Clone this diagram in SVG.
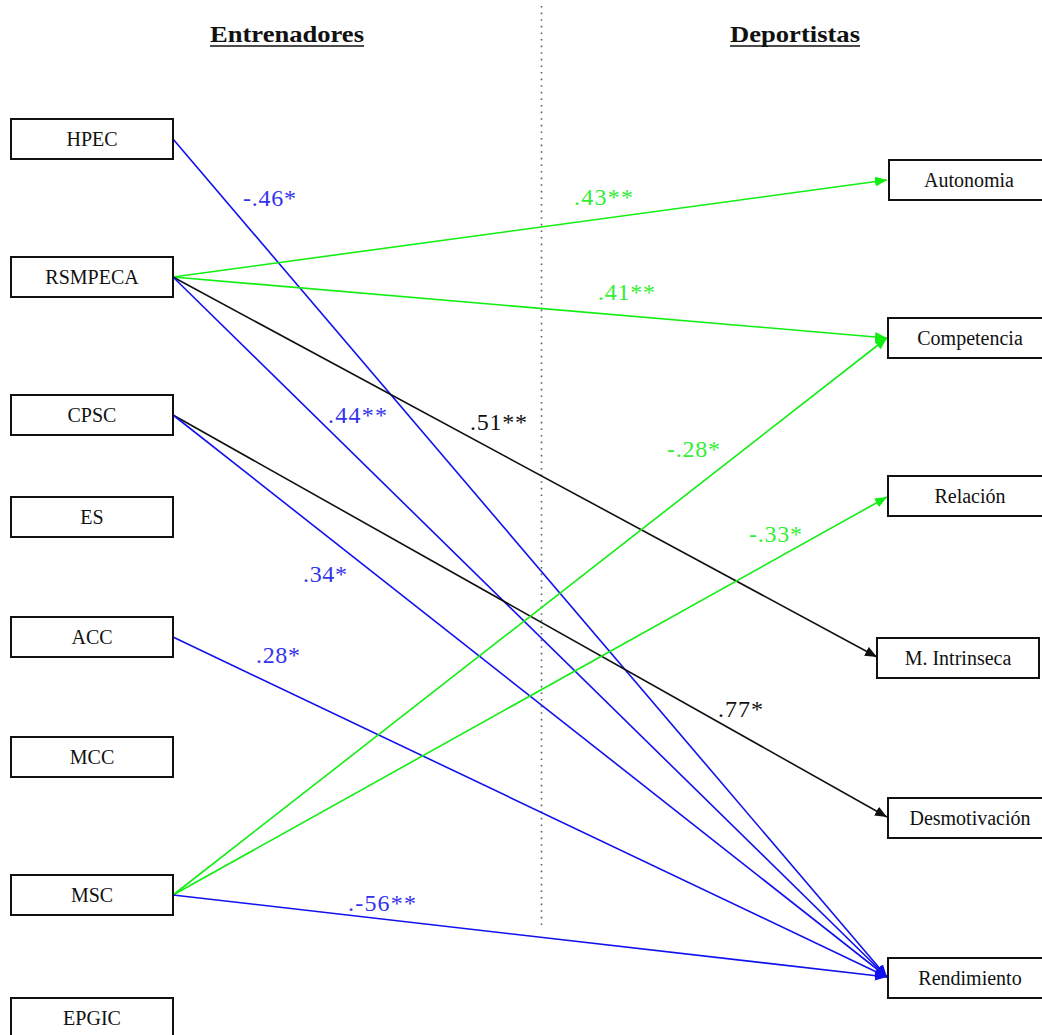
<svg xmlns="http://www.w3.org/2000/svg" width="1042" height="1035" viewBox="0 0 1042 1035">
<style>
.box{fill:#fff;stroke:#111;stroke-width:2}
.nt{font-family:"Liberation Serif","Times New Roman",serif;font-size:20px;fill:#111;text-anchor:middle}
.title{font-family:"Liberation Serif","Times New Roman",serif;font-size:23px;font-weight:bold;fill:#111}
.lbl{font-family:"Liberation Serif","Times New Roman",serif;font-size:24px}
.b{stroke:#1111ee;stroke-width:1.6;fill:none}
.g{stroke:#11ee11;stroke-width:1.6;fill:none}
.k{stroke:#111;stroke-width:1.6;fill:none}
</style>
<defs>
<marker id="ab" viewBox="0 0 12 10" refX="12" refY="5" markerWidth="12" markerHeight="10" markerUnits="userSpaceOnUse" orient="auto"><path d="M0,0L12,5L0,10z" fill="#1111ee"/></marker>
<marker id="ag" viewBox="0 0 12 10" refX="12" refY="5" markerWidth="12" markerHeight="10" markerUnits="userSpaceOnUse" orient="auto"><path d="M0,0L12,5L0,10z" fill="#11ee11"/></marker>
<marker id="ak" viewBox="0 0 12 10" refX="12" refY="5" markerWidth="12" markerHeight="10" markerUnits="userSpaceOnUse" orient="auto"><path d="M0,0L12,5L0,10z" fill="#111"/></marker>
</defs>
<rect width="1042" height="1035" fill="#fff"/>
<g id="titles">
<text class="title" x="210" y="42" textLength="154" lengthAdjust="spacingAndGlyphs">Entrenadores</text>
<line x1="210" y1="46" x2="364" y2="46" stroke="#111" stroke-width="1.6"/>
<text class="title" x="730" y="42" textLength="130" lengthAdjust="spacingAndGlyphs">Deportistas</text>
<line x1="730" y1="46" x2="860" y2="46" stroke="#111" stroke-width="1.6"/>
</g>
<line id="divider" x1="541.5" y1="6" x2="541.5" y2="926" stroke="#556070" stroke-width="1.6" stroke-dasharray="1.6,5"/>
<g id="connectors">
<line class="b" x1="173" y1="139" x2="887" y2="977" marker-end="url(#ab)"/>
<line class="g" x1="173" y1="277" x2="887" y2="180" marker-end="url(#ag)"/>
<line class="g" x1="173" y1="277" x2="887" y2="338" marker-end="url(#ag)"/>
<line class="k" x1="173" y1="277" x2="877" y2="657" marker-end="url(#ak)"/>
<line class="b" x1="173" y1="277" x2="887" y2="977" marker-end="url(#ab)"/>
<line class="k" x1="173" y1="415" x2="887" y2="817" marker-end="url(#ak)"/>
<line class="b" x1="173" y1="415" x2="887" y2="977" marker-end="url(#ab)"/>
<line class="b" x1="173" y1="637" x2="887" y2="977" marker-end="url(#ab)"/>
<line class="g" x1="173" y1="895" x2="887" y2="338" marker-end="url(#ag)"/>
<line class="g" x1="173" y1="895" x2="887" y2="497" marker-end="url(#ag)"/>
<line class="b" x1="173" y1="895" x2="887" y2="977" marker-end="url(#ab)"/>
<g class="lbl">
<text x="243" y="206" fill="#3333ee" textLength="53">-.46*</text>
<text x="574" y="205" fill="#33ee33" textLength="59">.43**</text>
<text x="598" y="300" fill="#33ee33" textLength="57">.41**</text>
<text x="328" y="423" fill="#3333ee" textLength="59">.44**</text>
<text x="470" y="430" fill="#111" textLength="57">.51**</text>
<text x="667" y="457" fill="#33ee33" textLength="53">-.28*</text>
<text x="749" y="542" fill="#33ee33" textLength="53">-.33*</text>
<text x="303" y="582" fill="#3333ee" textLength="44">.34*</text>
<text x="256" y="663" fill="#3333ee" textLength="44">.28*</text>
<text x="718" y="717" fill="#111" textLength="45">.77*</text>
<text x="348" y="911" fill="#3333ee" textLength="68">.-56**</text>
</g>
</g>
<g id="HPEC"><rect class="box" x="11" y="119" width="162" height="40"/><text class="nt" x="92" y="146">HPEC</text></g>
<g id="RSMPECA"><rect class="box" x="11" y="257" width="162" height="40"/><text class="nt" x="92" y="284">RSMPECA</text></g>
<g id="CPSC"><rect class="box" x="11" y="395" width="162" height="40"/><text class="nt" x="92" y="422">CPSC</text></g>
<g id="ES"><rect class="box" x="11" y="497" width="162" height="40"/><text class="nt" x="92" y="524">ES</text></g>
<g id="ACC"><rect class="box" x="11" y="617" width="162" height="40"/><text class="nt" x="92" y="644">ACC</text></g>
<g id="MCC"><rect class="box" x="11" y="737" width="162" height="40"/><text class="nt" x="92" y="764">MCC</text></g>
<g id="MSC"><rect class="box" x="11" y="875" width="162" height="40"/><text class="nt" x="92" y="902">MSC</text></g>
<g id="EPGIC"><rect class="box" x="11" y="998" width="162" height="40"/><text class="nt" x="92" y="1025">EPGIC</text></g>
<g id="Autonomia"><rect class="box" x="889" y="160" width="162" height="40"/><text class="nt" x="969" y="187">Autonomia</text></g>
<g id="Competencia"><rect class="box" x="888" y="318" width="162" height="40"/><text class="nt" x="970" y="345">Competencia</text></g>
<g id="Relacion"><rect class="box" x="888" y="476" width="162" height="40"/><text class="nt" x="970" y="503">Relación</text></g>
<g id="MIntrinseca"><rect class="box" x="877" y="638" width="162" height="40"/><text class="nt" x="958" y="665">M. Intrinseca</text></g>
<g id="Desmotivacion"><rect class="box" x="888" y="798" width="162" height="40"/><text class="nt" x="970" y="825">Desmotivación</text></g>
<g id="Rendimiento"><rect class="box" x="888" y="958" width="162" height="40"/><text class="nt" x="970" y="985">Rendimiento</text></g>
</svg>
